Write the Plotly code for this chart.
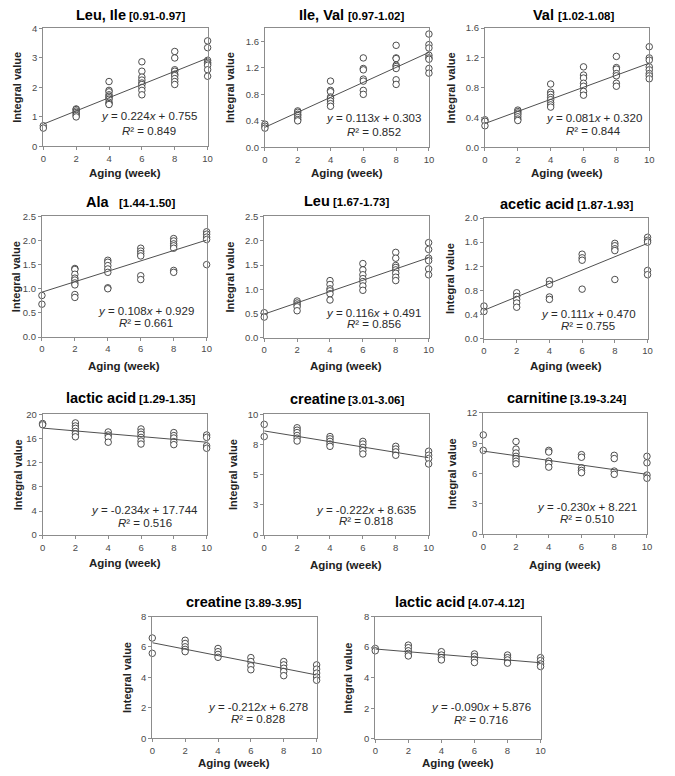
import plotly.graph_objects as go

# ---------------- data ----------------
titles = ["Leu, Ile", "Ile, Val", "Val", "Ala", "Leu", "acetic acid",
          "lactic acid", "creatine", "carnitine", "creatine", "lactic acid"]
ranges_ppm = ["[0.91-0.97]", "[0.97-1.02]", "[1.02-1.08]", "[1.44-1.50]", "[1.67-1.73]",
              "[1.87-1.93]", "[1.29-1.35]", "[3.01-3.06]", "[3.19-3.24]", "[3.89-3.95]",
              "[4.07-4.12]"]
slopes = [0.224, 0.113, 0.081, 0.108, 0.116, 0.111, -0.234, -0.222, -0.230, -0.212, -0.090]
intercepts = [0.755, 0.303, 0.320, 0.929, 0.491, 0.470, 17.744, 8.635, 8.221, 6.278, 5.876]
r2 = [0.849, 0.852, 0.844, 0.661, 0.856, 0.755, 0.516, 0.818, 0.510, 0.828, 0.716]

weeks = [0, 2, 4, 6, 8, 10]

leu_ile = [[0.70, 0.62],
           [1.27, 1.25, 1.20, 1.15, 1.10, 1.05, 1.00],
           [2.20, 1.90, 1.85, 1.75, 1.70, 1.65, 1.60, 1.50, 1.45, 1.42],
           [2.87, 2.55, 2.35, 2.25, 2.15, 2.10, 2.00, 1.90, 1.75],
           [3.22, 3.00, 2.60, 2.55, 2.45, 2.40, 2.30, 2.20, 2.10],
           [3.58, 3.35, 2.92, 2.85, 2.80, 2.75, 2.60, 2.38]]
ile_val = [[0.35, 0.32, 0.29],
           [0.55, 0.53, 0.50, 0.48, 0.45, 0.42, 0.40],
           [1.00, 0.86, 0.84, 0.76, 0.74, 0.70, 0.66, 0.62],
           [1.35, 1.19, 1.17, 1.03, 1.00, 0.86, 0.80],
           [1.54, 1.35, 1.34, 1.24, 1.22, 1.19, 1.02, 0.95],
           [1.71, 1.55, 1.50, 1.39, 1.35, 1.33, 1.19, 1.12]]
val = [[0.37, 0.35, 0.29],
       [0.50, 0.48, 0.46, 0.44, 0.41, 0.38, 0.36],
       [0.85, 0.74, 0.71, 0.67, 0.64, 0.60, 0.57, 0.54],
       [1.08, 0.97, 0.93, 0.86, 0.82, 0.75, 0.70],
       [1.22, 1.07, 1.05, 0.99, 0.96, 0.86, 0.82],
       [1.35, 1.20, 1.17, 1.08, 1.04, 0.99, 0.96, 0.92]]
ala = [[0.86, 0.68],
       [1.42, 1.40, 1.30, 1.22, 1.18, 1.12, 1.08, 0.88, 0.82],
       [1.59, 1.55, 1.48, 1.41, 1.34, 1.02, 1.00],
       [1.84, 1.78, 1.73, 1.68, 1.27, 1.19],
       [2.04, 1.99, 1.93, 1.89, 1.84, 1.38, 1.34],
       [2.18, 2.13, 2.07, 2.02, 1.50]]
leu = [[0.52, 0.43],
       [0.76, 0.72, 0.68, 0.64, 0.56],
       [1.18, 1.10, 1.01, 0.97, 0.91, 0.78],
       [1.53, 1.40, 1.30, 1.22, 1.16, 1.07, 0.98],
       [1.76, 1.64, 1.49, 1.45, 1.40, 1.33, 1.25, 1.18],
       [1.96, 1.82, 1.64, 1.59, 1.42, 1.30]]
acetic = [[0.54, 0.45],
          [0.76, 0.70, 0.65, 0.59, 0.52],
          [0.96, 0.90, 0.69, 0.65],
          [1.40, 1.34, 1.30, 0.82],
          [1.58, 1.54, 1.49, 1.46, 0.98],
          [1.68, 1.63, 1.60, 1.13, 1.06]]
lactic1 = [[18.5, 18.3],
           [18.6, 18.1, 17.7, 17.2, 16.8, 16.3],
           [17.1, 16.6, 16.2, 15.4],
           [17.6, 17.1, 16.7, 16.2, 15.6, 15.1],
           [17.0, 16.5, 16.1, 15.5, 15.0],
           [16.6, 16.2, 14.8, 14.4]]
creatine1 = [[9.18, 8.17],
             [8.90, 8.70, 8.50, 8.26, 8.04, 7.80],
             [8.17, 7.98, 7.77, 7.55, 7.36],
             [7.77, 7.55, 7.27, 7.00, 6.73],
             [7.36, 7.14, 6.90, 6.62],
             [6.95, 6.62, 6.35, 5.90]]
carnitine = [[9.82, 8.29],
             [9.17, 8.42, 8.03, 7.70, 7.48, 7.22, 6.96],
             [8.29, 8.13, 7.22, 6.99, 6.63],
             [7.87, 7.61, 6.57, 6.31, 6.08],
             [7.80, 7.48, 6.24, 5.92],
             [7.70, 7.06, 5.85, 5.53]]
creatine2 = [[6.59, 5.58],
             [6.44, 6.23, 6.01, 5.84, 5.69],
             [5.90, 5.69, 5.51, 5.32],
             [5.30, 5.04, 4.76, 4.50],
             [5.04, 4.82, 4.60, 4.39, 4.11],
             [4.82, 4.54, 4.28, 4.02, 3.81]]
lactic2 = [[5.91, 5.76],
           [6.13, 5.96, 5.76, 5.59, 5.42],
           [5.70, 5.48, 5.31, 5.16],
           [5.55, 5.38, 5.20, 4.99],
           [5.48, 5.31, 5.16, 4.95],
           [5.31, 5.12, 4.90, 4.73]]
series = [leu_ile, ile_val, val, ala, leu, acetic, lactic1, creatine1, carnitine, creatine2, lactic2]

y_max = [4, 1.8, 1.6, 2.5, 2.5, 2.0, 20, 10, 12, 8, 8]
y_tickvals = [[0, 1, 2, 3, 4],
              [0, 0.4, 0.8, 1.2, 1.6],
              [0, 0.4, 0.8, 1.2, 1.6],
              [0, 0.5, 1.0, 1.5, 2.0, 2.5],
              [0, 0.5, 1.0, 1.5, 2.0, 2.5],
              [0, 0.4, 0.8, 1.2, 1.6, 2.0],
              [0, 4, 8, 12, 16, 20],
              [0, 2.5, 5, 7.5, 10],
              [0, 3, 6, 9, 12],
              [0, 2, 4, 6, 8],
              [0, 2, 4, 6, 8]]
y_ticktext = [["0", "1", "2", "3", "4"],
              ["0.0", "0.4", "0.8", "1.2", "1.6"],
              ["0.0", "0.4", "0.8", "1.2", "1.6"],
              ["0.0", "0.5", "1.0", "1.5", "2.0", "2.5"],
              ["0.0", "0.5", "1.0", "1.5", "2.0", "2.5"],
              ["0.0", "0.4", "0.8", "1.2", "1.6", "2.0"],
              ["0", "4", "8", "12", "16", "20"],
              ["0", "3", "5", "8", "10"],
              ["0", "3", "6", "9", "12"],
              ["0", "2", "4", "6", "8"],
              ["0", "2", "4", "6", "8"]]
x_ticks = [0, 2, 4, 6, 8, 10]

# ---------------- layout (pixel geometry of the target page) ----------------
PAGE_W, PAGE_H = 675, 776
OFF = 8                      # default body margin of the html page
W, H = PAGE_W - OFF, PAGE_H - OFF
boxes = [  # left, right, top, bottom (page px)
    (40.7, 207.0, 22.7, 142.3),
    (265.0, 431.0, 22.3, 143.3),
    (487.7, 654.0, 22.3, 143.3),
    (39.3, 206.0, 213.3, 335.7),
    (264.3, 430.7, 213.3, 336.7),
    (486.7, 652.3, 215.0, 337.3),
    (40.0, 206.0, 414.3, 536.7),
    (264.3, 430.7, 414.3, 536.7),
    (486.0, 651.7, 412.7, 535.7),
    (151.0, 317.3, 619.3, 742.7),
    (376.7, 544.0, 619.3, 743.3),
]
TITLE_FS, BRACKET_FS = 14.5, 11.5
TICK_FS = 9.5
title_center = [129, 352, 577.5, 128.7, 347.8, 570, 129, 347.8, 570, 243, 462]
title_gap = [3.5, 3.5, 3.5, 10, 3.5, 3.5, 3.5, 3.5, 3.5, 3.5, 3.5]
title_y = [9.5, 9.5, 9.5, 199, 198, 201, 398, 399, 398, 605, 605]
xtitle_y = [169, 169, 169, 365, 365, 365, 565, 567, 567, 768, 768]
ytitle_x = [14.5, 229, 453, 12.5, 230, 453, 14.5, 232, 454, 126, 349]
eq_pos = [  # fraction x, fraction y line1, fraction y line2 (within plot box)
    (0.646, 0.255, 0.132),
    (0.664, 0.243, 0.130),
    (0.661, 0.248, 0.134),
    (0.632, 0.215, 0.112),
    (0.665, 0.208, 0.117),
    (0.637, 0.205, 0.103),
    (0.622, 0.210, 0.100),
    (0.617, 0.208, 0.117),
    (0.632, 0.221, 0.122),
    (0.643, 0.257, 0.157),
    (0.640, 0.260, 0.153),
]

# Arial/Liberation Sans Bold advance widths (em/1000) for title layout
BOLD_W = {" ": 278, ",": 278, ".": 278, "-": 333, "[": 333, "]": 333,
          "A": 722, "I": 278, "L": 611, "V": 667,
          "a": 556, "c": 556, "d": 611, "e": 556, "i": 278, "l": 278, "n": 611,
          "r": 389, "t": 333, "u": 611}


def bold_width(s, size):
    return sum(BOLD_W.get(ch, 556) for ch in s) / 1000 * size


FONT = "Liberation Sans, Arial, sans-serif"
AXC = "#8c8c8c"
TXT = "#4a4a4a"

fig = go.Figure()
annotations = []


def px(x):
    return (x - OFF) / W


def py(y):
    return 1 - (y - OFF) / H


for i in range(11):
    k = "" if i == 0 else str(i + 1)
    xa, ya = "x" + k, "y" + k
    l, r, t, b = boxes[i]

    xs, ys = [], []
    for w, vals in zip(weeks, series[i]):
        xs += [w] * len(vals)
        ys += vals
    fig.add_trace(go.Scatter(
        x=xs, y=ys, mode="markers", xaxis=xa, yaxis=ya, cliponaxis=False,
        marker=dict(symbol="circle", size=6.5, color="white",
                    line=dict(color="#3a3a3a", width=0.9)),
        showlegend=False, hoverinfo="x+y"))
    fig.add_trace(go.Scatter(
        x=[0, 10], y=[intercepts[i], intercepts[i] + slopes[i] * 10],
        mode="lines", xaxis=xa, yaxis=ya, cliponaxis=False,
        line=dict(color="#505050", width=1), showlegend=False, hoverinfo="skip"))

    fig.update_layout(**{
        "xaxis" + k: dict(domain=[px(l), px(r)], range=[0, 10], anchor=ya,
                          tickvals=x_ticks, ticks="outside", ticklen=3, tickwidth=1,
                          tickcolor=AXC, showline=True, linecolor=AXC, linewidth=1,
                          mirror=True, showgrid=False, zeroline=False,
                          tickfont=dict(family=FONT, size=TICK_FS, color=TXT)),
        "yaxis" + k: dict(domain=[py(b), py(t)], range=[0, y_max[i]], anchor=xa,
                          tickvals=y_tickvals[i], ticktext=y_ticktext[i],
                          ticks="outside", ticklen=3, tickwidth=1, tickcolor=AXC,
                          showline=True, linecolor=AXC, linewidth=1, mirror=True,
                          showgrid=False, zeroline=False,
                          tickfont=dict(family=FONT, size=TICK_FS, color=TXT)),
    })

    w_main = bold_width(titles[i], TITLE_FS)
    w_br = bold_width(ranges_ppm[i], BRACKET_FS)
    total = w_main + title_gap[i] + w_br
    left = title_center[i] - total / 2
    annotations.append(dict(
        x=px(left), y=py(title_y[i]), xref="paper", yref="paper",
        showarrow=False, xanchor="left", yanchor="middle", borderpad=0, borderwidth=0,
        text=f"<b>{titles[i]}</b>", font=dict(family=FONT, size=TITLE_FS, color="black")))
    annotations.append(dict(
        x=px(left + w_main + title_gap[i]), y=py(title_y[i] + 1), xref="paper", yref="paper",
        showarrow=False, xanchor="left", yanchor="middle", borderpad=0, borderwidth=0,
        text=f"<b>{ranges_ppm[i]}</b>", font=dict(family=FONT, size=BRACKET_FS, color="black")))
    annotations.append(dict(
        x=px((l + r) / 2), y=py(xtitle_y[i]), xref="paper", yref="paper",
        showarrow=False, xanchor="center", yanchor="middle",
        text="<b>Aging (week)</b>", font=dict(family=FONT, size=11.5, color="#222")))
    annotations.append(dict(
        x=px(ytitle_x[i]), y=py((t + b) / 2), xref="paper", yref="paper",
        showarrow=False, xanchor="center", yanchor="middle", textangle=-90,
        borderpad=0, borderwidth=0,
        text="<b>Integral value</b>", font=dict(family=FONT, size=11, color="#222")))

    fx, fy1, fy2 = eq_pos[i]
    sign = "-" if slopes[i] < 0 else ""
    eq = f"<i>y</i> = {sign}{abs(slopes[i]):.3f}<i>x</i> + {intercepts[i]:.3f}"
    annotations.append(dict(
        x=fx, y=fy1, xref=xa + " domain", yref=ya + " domain", showarrow=False,
        xanchor="center", yanchor="middle", text=eq,
        font=dict(family=FONT, size=11.5, color="#2a2a2a")))
    annotations.append(dict(
        x=fx, y=fy2, xref=xa + " domain", yref=ya + " domain", showarrow=False,
        xanchor="center", yanchor="middle", text=f"<i>R</i>² = {r2[i]:.3f}",
        font=dict(family=FONT, size=11.5, color="#2a2a2a")))

fig.update_layout(
    width=W, height=H, margin=dict(l=0, r=0, t=0, b=0),
    paper_bgcolor="white", plot_bgcolor="white",
    annotations=annotations, showlegend=False)

fig.write_html("out.html")
